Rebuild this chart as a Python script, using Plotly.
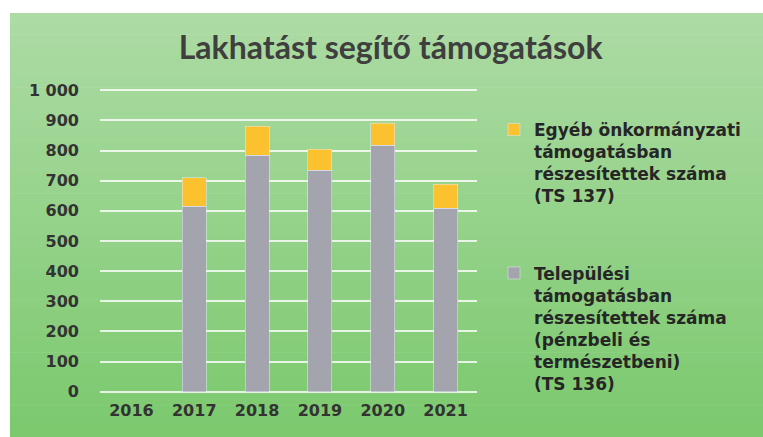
import plotly.graph_objects as go

years = ["2016", "2017", "2018", "2019", "2020", "2021"]
telepulesi = [None, 615, 785, 735, 818, 608]
egyeb = [None, 95, 95, 70, 72, 80]
y_ticks = [0, 100, 200, 300, 400, 500, 600, 700, 800, 900, 1000]
y_tick_labels = ["0", "100", "200", "300", "400", "500", "600", "700", "800", "900", "1 000"]

name_gray = ("Települési<br>támogatásban<br>részesítettek száma<br>(pénzbeli és<br>"
             "természetbeni)<br>(TS 136)")
name_yellow = "Egyéb önkormányzati<br>támogatásban<br>részesítettek száma<br>(TS 137)"

W, H = 763, 437
ML, MR, MT, MB = 100, 286, 89, 44
pw, ph = W - ML - MR, H - MT - MB

fig = go.Figure()
fig.add_trace(go.Bar(x=years, y=telepulesi, name=name_gray, marker_color="#a3a4ae",
                     legendgroup="g2", legendrank=2))
fig.add_trace(go.Bar(x=years, y=egyeb, name=name_yellow, marker_color="#fcc12e",
                     legendgroup="g1", legendrank=1))

# background gradient
def px2x(p):
    return (p - ML) / pw

def py2y(p):
    return (H - MB - p) / ph

top_c = (172, 219, 164)
bot_c = (124, 201, 110)
n = 40
y0p, y1p = 13, H
shapes = []
for i in range(n):
    t = i / (n - 1)
    c = tuple(int(round(top_c[k] + (bot_c[k] - top_c[k]) * t)) for k in range(3))
    a = y0p + (y1p - y0p) * i / n
    b = y0p + (y1p - y0p) * (i + 1) / n + 0.6
    shapes.append(dict(type="rect", xref="paper", yref="paper", layer="below",
                       x0=px2x(10), x1=px2x(W + 5), y0=py2y(min(b, H)), y1=py2y(a),
                       line=dict(width=0), fillcolor="rgb(%d,%d,%d)" % c))

TICKFONT = "DejaVu Sans"
fig.update_layout(
    width=W, height=H,
    margin=dict(l=ML, r=MR, t=MT, b=MB, pad=0),
    paper_bgcolor="white", plot_bgcolor="rgba(0,0,0,0)",
    barmode="stack", bargap=0.62,
    shapes=shapes,
    title=dict(text="<b>Lakhatást segítő támogatások</b>", x=0.512, xanchor="center",
               y=1 - 48 / H, yanchor="middle",
               font=dict(family="Lato", size=32, color="#3f3f3f")),
    font=dict(family=TICKFONT, color="#333333"),
    showlegend=True,
    legend=dict(x=px2x(494), xanchor="left", y=py2y(112), yanchor="top",
                traceorder="grouped", tracegroupgap=52, valign="top",
                bgcolor="rgba(0,0,0,0)", borderwidth=0,
                font=dict(family=TICKFONT, size=17, color="#262626", weight="bold"),
                itemwidth=30),
    xaxis=dict(showgrid=False, showline=False, ticks="",
               tickfont=dict(family=TICKFONT, size=16, color="#333333", weight="bold"),
               ticklabelstandoff=6),
    yaxis=dict(range=[-4, 1004], tickvals=y_ticks, ticktext=y_tick_labels,
               showgrid=True, gridcolor="rgba(255,255,255,0.8)", gridwidth=2,
               zeroline=False, showline=False, ticks="",
               tickfont=dict(family=TICKFONT, size=16, color="#333333", weight="bold"),
               ticklabelstandoff=20),
)

fig.write_html("out.html", config={"displayModeBar": False},
               post_script="document.body.style.margin='0';")
